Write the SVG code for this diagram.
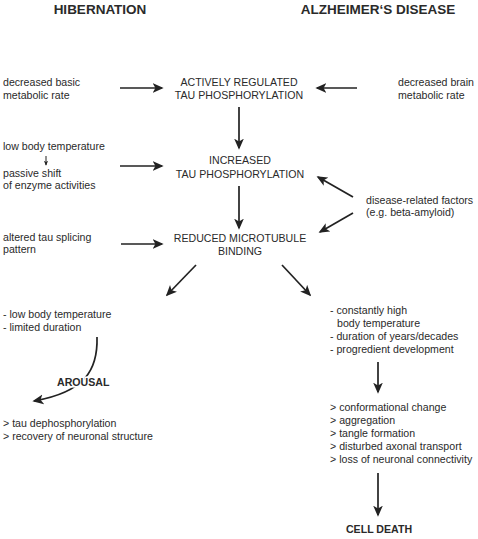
<svg xmlns="http://www.w3.org/2000/svg" width="478" height="539" viewBox="0 0 478 539">
<style>
text{font-family:"Liberation Sans",Arial,sans-serif;font-size:10.6px;fill:#2a2a2a}
.h{font-weight:bold;font-size:13.5px}
.b{font-weight:bold}
.c{text-anchor:middle}
.ln{stroke:#222;stroke-width:1.7;fill:none;marker-end:url(#ah)}
</style>
<defs>
<marker id="ah" viewBox="0 0 10 10" refX="8.5" refY="5" markerWidth="11" markerHeight="11" markerUnits="userSpaceOnUse" orient="auto">
<path d="M0,0.6 L10,5 L0,9.4 L2.5,5 Z" fill="#222"/>
</marker>
<marker id="sm" viewBox="0 0 10 10" refX="8.5" refY="5" markerWidth="5" markerHeight="5" markerUnits="userSpaceOnUse" orient="auto">
<path d="M0,0.8 L10,5 L0,9.2 L2.5,5 Z" fill="#222"/>
</marker>
</defs>
<rect width="478" height="539" fill="#fff"/>
<g id="titles">
<text class="h c" x="100" y="14">HIBERNATION</text>
<text class="h c" x="378" y="14">ALZHEIMER‘S DISEASE</text>
</g>
<g id="n-basic"><text x="3" y="86">decreased basic</text><text x="3" y="99">metabolic rate</text></g>
<g id="n-active"><text class="c" x="239" y="85.5">ACTIVELY REGULATED</text><text class="c" x="239" y="99">TAU PHOSPHORYLATION</text></g>
<g id="n-brain"><text x="398" y="86">decreased brain</text><text x="398" y="99">metabolic rate</text></g>
<g id="n-lowtemp"><text x="3" y="150">low body temperature</text><text x="3" y="177">passive shift</text><text x="3" y="189">of enzyme activities</text></g>
<g id="n-increased"><text class="c" x="240" y="164">INCREASED</text><text class="c" x="240" y="178">TAU PHOSPHORYLATION</text></g>
<g id="n-factors"><text x="366" y="204">disease-related factors</text><text x="366" y="216">(e.g. beta-amyloid)</text></g>
<g id="n-splicing"><text x="3" y="241">altered tau splicing</text><text x="3" y="253">pattern</text></g>
<g id="n-reduced"><text class="c" x="240" y="242">REDUCED MICROTUBULE</text><text class="c" x="240" y="255">BINDING</text></g>
<g id="n-hib-cond"><text x="3" y="318">- low body temperature</text><text x="3" y="331">- limited duration</text></g>
<g id="n-ad-cond"><text x="330" y="314">- constantly high</text><text x="337" y="327">body temperature</text><text x="330" y="340">- duration of years/decades</text><text x="330" y="353">- progredient development</text></g>
<g id="n-hib-out"><text x="3" y="427">&gt; tau dephosphorylation</text><text x="3" y="440">&gt; recovery of neuronal structure</text></g>
<g id="n-ad-out"><text x="330" y="411">&gt; conformational change</text><text x="330" y="424">&gt; aggregation</text><text x="330" y="437">&gt; tangle formation</text><text x="330" y="450">&gt; disturbed axonal transport</text><text x="330" y="463">&gt; loss of neuronal connectivity</text></g>
<g id="connectors">
<line class="ln" x1="120" y1="88" x2="162" y2="88"/>
<line class="ln" x1="357" y1="88" x2="317" y2="88"/>
<line class="ln" x1="239" y1="107" x2="239" y2="148"/>
<line x1="46" y1="156" x2="46" y2="165" stroke="#222" stroke-width="1" marker-end="url(#sm)"/>
<line class="ln" x1="120" y1="166" x2="162" y2="166"/>
<line class="ln" x1="353" y1="197" x2="318" y2="177"/>
<line class="ln" x1="353" y1="213" x2="320" y2="232"/>
<line class="ln" x1="239" y1="186" x2="239" y2="228"/>
<line class="ln" x1="121" y1="244" x2="162" y2="244"/>
<line class="ln" x1="196" y1="265" x2="167" y2="295"/>
<line class="ln" x1="282" y1="265" x2="310" y2="295"/>
<path class="ln" d="M97,337 C98,370 85,392 34,401"/>
<line class="ln" x1="378" y1="362" x2="378" y2="392"/>
<line class="ln" x1="378" y1="473" x2="378" y2="515"/>
</g>
<g id="n-arousal"><text class="b" x="57" y="386" stroke="#fff" stroke-width="3" paint-order="stroke">AROUSAL</text></g>
<g id="n-death"><text class="b c" x="379" y="533">CELL DEATH</text></g>
</svg>
